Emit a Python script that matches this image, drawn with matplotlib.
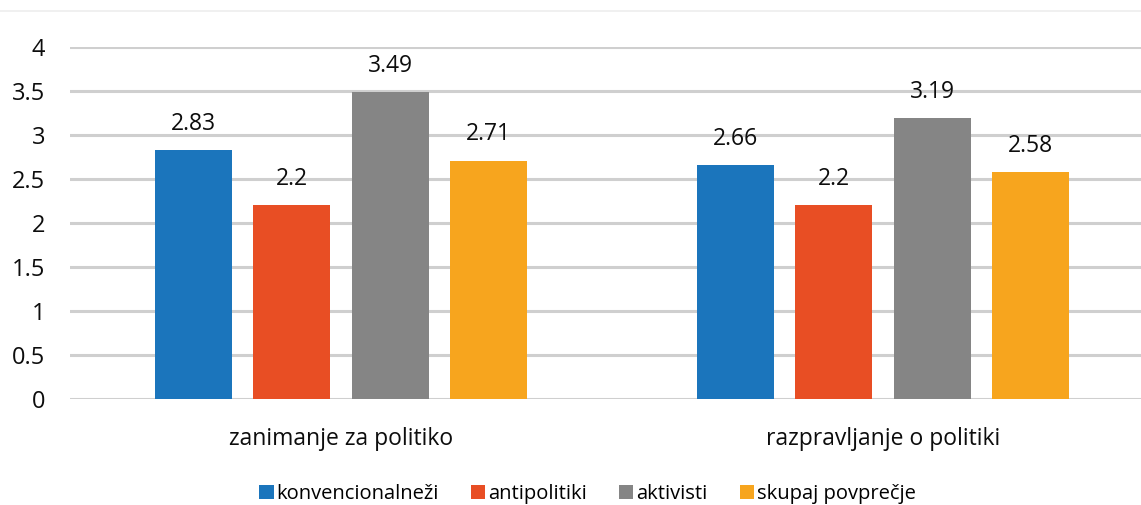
import matplotlib.pyplot as plt
import numpy as np
from matplotlib.patches import Patch

categories = ["zanimanje za politiko", "razpravljanje o politiki"]
series = ["konvencionalneži", "antipolitiki", "aktivisti", "skupaj povprečje"]
konvencionalnezi = [2.83, 2.66]
antipolitiki = [2.2, 2.2]
aktivisti = [3.49, 3.19]
povprecje = [2.71, 2.58]
yticks = [0, 0.5, 1, 1.5, 2, 2.5, 3, 3.5, 4]
ytick_labels = ["0", "0.5", "1", "1.5", "2", "2.5", "3", "3.5", "4"]

colors = ["#1B75BC", "#E84E24", "#858585", "#F7A51E"]
values = [konvencionalnezi, antipolitiki, aktivisti, povprecje]

plt.rcParams['font.family'] = ['Open Sans', 'DejaVu Sans']

fig = plt.figure(figsize=(11.41, 5.05), dpi=100)
ax = fig.add_axes([70/1141, 1-399/505, 1084/1141, 352/505])

x = np.arange(len(categories))
w = 0.142
step = 0.181
for i, (vals, c) in enumerate(zip(values, colors)):
    pos = x + (i - 1.5) * step
    bars = ax.bar(pos, vals, width=w, color=c, zorder=3)
    for b, v in zip(bars, vals):
        ax.text(b.get_x() + b.get_width()/2, v + 0.16, f"{v:g}",
                ha='center', va='bottom', fontsize=16.5, color='#0d0d0d')

ax.set_xlim(-0.5, 1.5)
ax.set_ylim(0, 4)
ax.set_yticks(yticks)
ax.set_yticklabels(ytick_labels, fontsize=17, color='#0d0d0d')
ax.yaxis.grid(True, color='#CFCFCF', linewidth=2.2, zorder=0)
ax.set_axisbelow(True)
ax.tick_params(axis='y', length=0, pad=18)
ax.tick_params(axis='x', length=0, pad=20)
ax.set_xticks(x)
ax.set_xticklabels(categories, fontsize=16.5, color='#0d0d0d')
for s in ax.spines.values():
    s.set_visible(False)

# faint frame line at the top
fig.add_artist(plt.Line2D([0, 1], [1-11/505, 1-11/505], color='#EEEEEE', linewidth=1.2))

handles = [Patch(facecolor=c) for c in colors]
fig.legend(handles, series, loc='center', bbox_to_anchor=(0.515, 1-494/505),
           ncol=4, frameon=False, fontsize=14.5, handlelength=0.7, handleheight=0.7,
           handletextpad=0.15, columnspacing=1.6)

fig.savefig("out.png", dpi=100)
